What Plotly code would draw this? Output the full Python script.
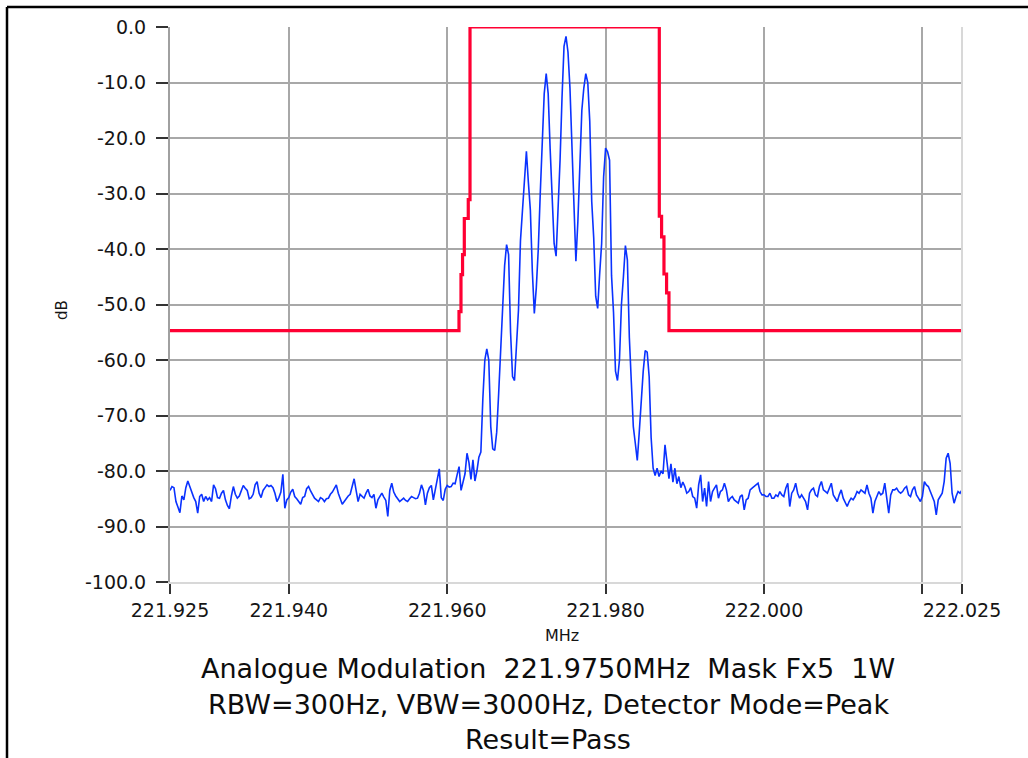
import numpy as np
import plotly.graph_objects as go

# ---------------- data ----------------
f_start, f_stop = 221.925, 222.025
n_points = 401

spectrum_db = [
    -83.5, -82.8, -83.0, -85.5, -86.5, -87.5, -84.5, -85.2, -83.0, -81.8,
    -82.8, -84.0, -84.8, -85.5, -87.6, -84.6, -84.2, -85.5, -84.6, -85.2,
    -84.8, -85.5, -82.5, -83.2, -84.8, -84.9, -84.0, -83.5, -85.2, -86.2,
    -86.8, -84.5, -82.8, -84.2, -84.9, -84.5, -83.6, -82.6, -83.1, -83.5,
    -85.0, -84.8, -84.2, -82.5, -81.9, -84.0, -84.8, -83.5, -83.0, -82.5,
    -82.8, -82.6, -83.0, -84.0, -85.5, -84.8, -83.8, -80.6, -86.7, -85.2,
    -84.8, -83.8, -83.3, -84.6, -85.0, -85.5, -86.0, -84.8, -84.6, -83.2,
    -82.8, -83.6, -84.2, -84.9, -85.2, -85.5, -84.8, -85.0, -85.5, -85.0,
    -84.9, -84.2, -83.8, -83.0, -82.5, -84.0, -85.2, -86.0, -85.5, -84.9,
    -84.5, -84.2, -83.0, -81.4, -83.5, -85.5, -84.2, -84.5, -84.9, -84.0,
    -83.3, -84.5, -84.8, -84.2, -86.7, -85.2, -84.5, -84.0, -84.7, -85.3,
    -88.2, -83.5, -82.2, -83.8, -84.5, -85.0, -85.5, -85.2, -84.9, -85.3,
    -85.5, -85.0, -84.6, -84.8, -85.0, -84.9, -84.0, -82.5, -83.5, -86.1,
    -84.0, -83.0, -82.6, -85.2, -83.5, -81.9, -79.6, -84.8, -85.3, -83.3,
    -82.6, -82.9, -82.8, -82.2, -82.3, -80.7, -79.2, -83.5, -81.9, -80.5,
    -76.8, -78.5, -81.5, -78.0, -81.8, -80.0, -77.5, -76.6, -67.0, -60.0,
    -58.0, -60.0, -72.0, -76.0, -76.3, -73.0, -66.0, -58.0, -48.0, -43.0,
    -39.2, -41.0, -55.0, -63.0, -63.7, -57.0, -51.0, -38.5, -33.0, -26.0,
    -22.4, -28.0, -33.0, -44.0, -51.6, -47.0, -40.0, -30.0, -22.0, -12.0,
    -8.4, -12.0, -22.0, -32.0, -39.0, -41.3, -33.0, -24.0, -12.6, -3.5,
    -1.7, -4.5, -11.0, -22.0, -31.5, -42.2, -35.0, -25.0, -15.0, -11.0,
    -8.4, -10.0, -17.0, -31.5, -38.0, -48.5, -50.7, -44.5, -39.0, -27.0,
    -21.8, -22.5, -24.0, -44.8, -51.4, -62.0, -63.7, -60.0, -50.0, -45.0,
    -39.4, -42.0, -56.0, -64.0, -72.0, -75.0, -78.1, -73.0, -67.0, -62.0,
    -58.3, -58.6, -63.0, -74.0, -79.5, -80.8, -79.5, -81.0, -80.0, -80.5,
    -75.3, -78.0, -81.4, -78.7, -82.0, -79.5, -82.3, -81.0, -83.0, -82.0,
    -82.8, -84.0, -83.7, -83.0, -84.6, -84.9, -86.7, -82.5, -80.7, -85.5,
    -83.1, -86.4, -81.9, -85.5, -83.7, -83.1, -82.5, -84.9, -83.7, -83.4,
    -82.2, -83.4, -85.5, -84.9, -84.6, -85.2, -85.5, -85.8, -84.6, -84.3,
    -87.0, -85.2, -84.9, -83.4, -83.1, -82.8, -82.5, -82.2, -83.7, -84.3,
    -84.3, -84.6, -84.6, -84.0, -84.9, -84.9, -84.3, -84.6, -83.7, -84.3,
    -84.6, -83.1, -82.2, -86.4, -84.0, -83.4, -82.2, -84.0, -84.9, -84.3,
    -84.9, -85.5, -87.0, -84.0, -83.4, -83.1, -84.3, -84.6, -82.8, -81.9,
    -83.4, -83.7, -84.0, -83.1, -82.2, -84.3, -84.9, -85.5, -84.3, -83.4,
    -84.9, -85.8, -86.4, -85.5, -84.9, -85.2, -84.6, -83.7, -84.0, -83.4,
    -83.7, -84.0, -82.5, -84.0, -84.9, -87.6, -85.5, -84.6, -83.7, -84.3,
    -84.0, -82.2, -85.5, -87.6, -84.3, -83.4, -83.4, -83.1, -83.7, -84.0,
    -83.7, -83.1, -82.8, -84.3, -84.6, -83.4, -82.8, -84.3, -84.9, -85.5,
    -84.6, -81.9, -82.5, -82.8, -83.7, -84.6, -85.5, -87.9, -85.2, -84.6,
    -84.0, -81.9, -77.7, -76.8, -78.6, -84.0, -85.8, -84.6, -83.7, -84.0,
    -83.4,
]

mask_freq = [221.925, 221.96149, 221.96149, 221.96174, 221.96174, 221.96194, 221.96194,
             221.96216, 221.96216, 221.96266, 221.96266, 221.96288, 221.96288,
             221.98678, 221.98678, 221.98707, 221.98707, 221.98737, 221.98737,
             221.98770, 221.98770, 221.98800, 221.98800, 222.025]
mask_db = [-54.7, -54.7, -51.3, -51.3, -44.6, -44.6, -41.0,
           -41.0, -34.5, -34.5, -31.1, -31.1, 0.0,
           0.0, -34.1, -34.1, -37.8, -37.8, -44.5, -44.5,
           -47.9, -47.9, -54.7, -54.7]

x_tickvals = [221.925, 221.94, 221.96, 221.98, 222.0, 222.02, 222.025]
x_ticktext = ["221.925", "221.940", "221.960", "221.980", "222.000", "", "222.025"]
y_tickvals = [0, -10, -20, -30, -40, -50, -60, -70, -80, -90, -100]
y_ticktext = ["0.0", "-10.0", "-20.0", "-30.0", "-40.0", "-50.0", "-60.0",
              "-70.0", "-80.0", "-90.0", "-100.0"]

title_lines = ["Analogue Modulation  221.9750MHz  Mask Fx5  1W",
               "RBW=300Hz, VBW=3000Hz, Detector Mode=Peak",
               "Result=Pass"]

freq = np.linspace(f_start, f_stop, n_points)

# ---------------- layout geometry (pixels) ----------------
W, H = 1028, 758
L, R, T, B = 170, 962, 27, 582
pw, ph = R - L, B - T


def px(x):
    return (x - L) / pw


def py(y):
    return (B - y) / ph


FONT = "DejaVu Sans"
TXT = "#151515"

fig = go.Figure()
fig.add_trace(go.Scatter(x=freq, y=spectrum_db, mode="lines",
                         line=dict(color="#0a32ff", width=1.6), hoverinfo="skip"))
fig.add_trace(go.Scatter(x=mask_freq, y=mask_db, mode="lines",
                         line=dict(color="#ff0033", width=3.2), hoverinfo="skip"))

fig.update_layout(
    width=W, height=H,
    margin=dict(l=L, r=W - R, t=T, b=H - B, autoexpand=False),
    paper_bgcolor="white", plot_bgcolor="white",
    showlegend=False,
    font=dict(family=FONT, color=TXT),
)

fig.update_xaxes(
    range=[f_start, f_stop], tickvals=x_tickvals, ticktext=x_ticktext,
    showgrid=True, gridcolor="#a8a8a8", gridwidth=2,
    showline=True, linecolor="#d8d8d8", linewidth=2,
    ticks="outside", ticklen=10, tickwidth=1.5, tickcolor="#333333",
    tickfont=dict(family=FONT, size=19, color=TXT),
    zeroline=False,
)
fig.update_yaxes(
    range=[-100, 0], tickvals=y_tickvals, ticktext=y_ticktext,
    showgrid=True, gridcolor="#a8a8a8", gridwidth=2,
    showline=True, linecolor="#a0a0a0", linewidth=2,
    ticks="outside", ticklen=12, tickwidth=2, tickcolor="#333333",
    ticklabelstandoff=6,
    tickfont=dict(family=FONT, size=19, color=TXT),
    zeroline=False,
)

annotations = [
    dict(text="dB", x=px(62), y=py(310), xref="paper", yref="paper",
         xanchor="center", yanchor="middle",
         showarrow=False, textangle=-90, font=dict(family=FONT, size=15, color=TXT)),
    dict(text="MHz", x=px(562), y=py(636), xref="paper", yref="paper",
         xanchor="center", yanchor="middle",
         showarrow=False, font=dict(family=FONT, size=16, color=TXT)),
]
for line_text, ycen in zip(title_lines, [668, 704, 739]):
    annotations.append(dict(text=line_text, x=px(548), y=py(ycen), xref="paper", yref="paper",
                            xanchor="center", yanchor="middle",
                            showarrow=False, font=dict(family=FONT, size=27, color="#0d0d0d")))
fig.update_layout(annotations=annotations)

shapes = [
    # light right edge of the plot area
    dict(type="line", xref="paper", yref="paper", x0=1, x1=1, y0=0, y1=1,
         line=dict(color="#d8d8d8", width=2)),
    # black outer frame (top and left)
    dict(type="line", xref="paper", yref="paper", x0=px(7), x1=px(W), y0=py(7), y1=py(7),
         line=dict(color="black", width=2.5)),
    dict(type="line", xref="paper", yref="paper", x0=px(7), x1=px(7), y0=py(7), y1=py(H),
         line=dict(color="black", width=2.5)),
]
fig.update_layout(shapes=shapes)

fig.write_html("out.html")
